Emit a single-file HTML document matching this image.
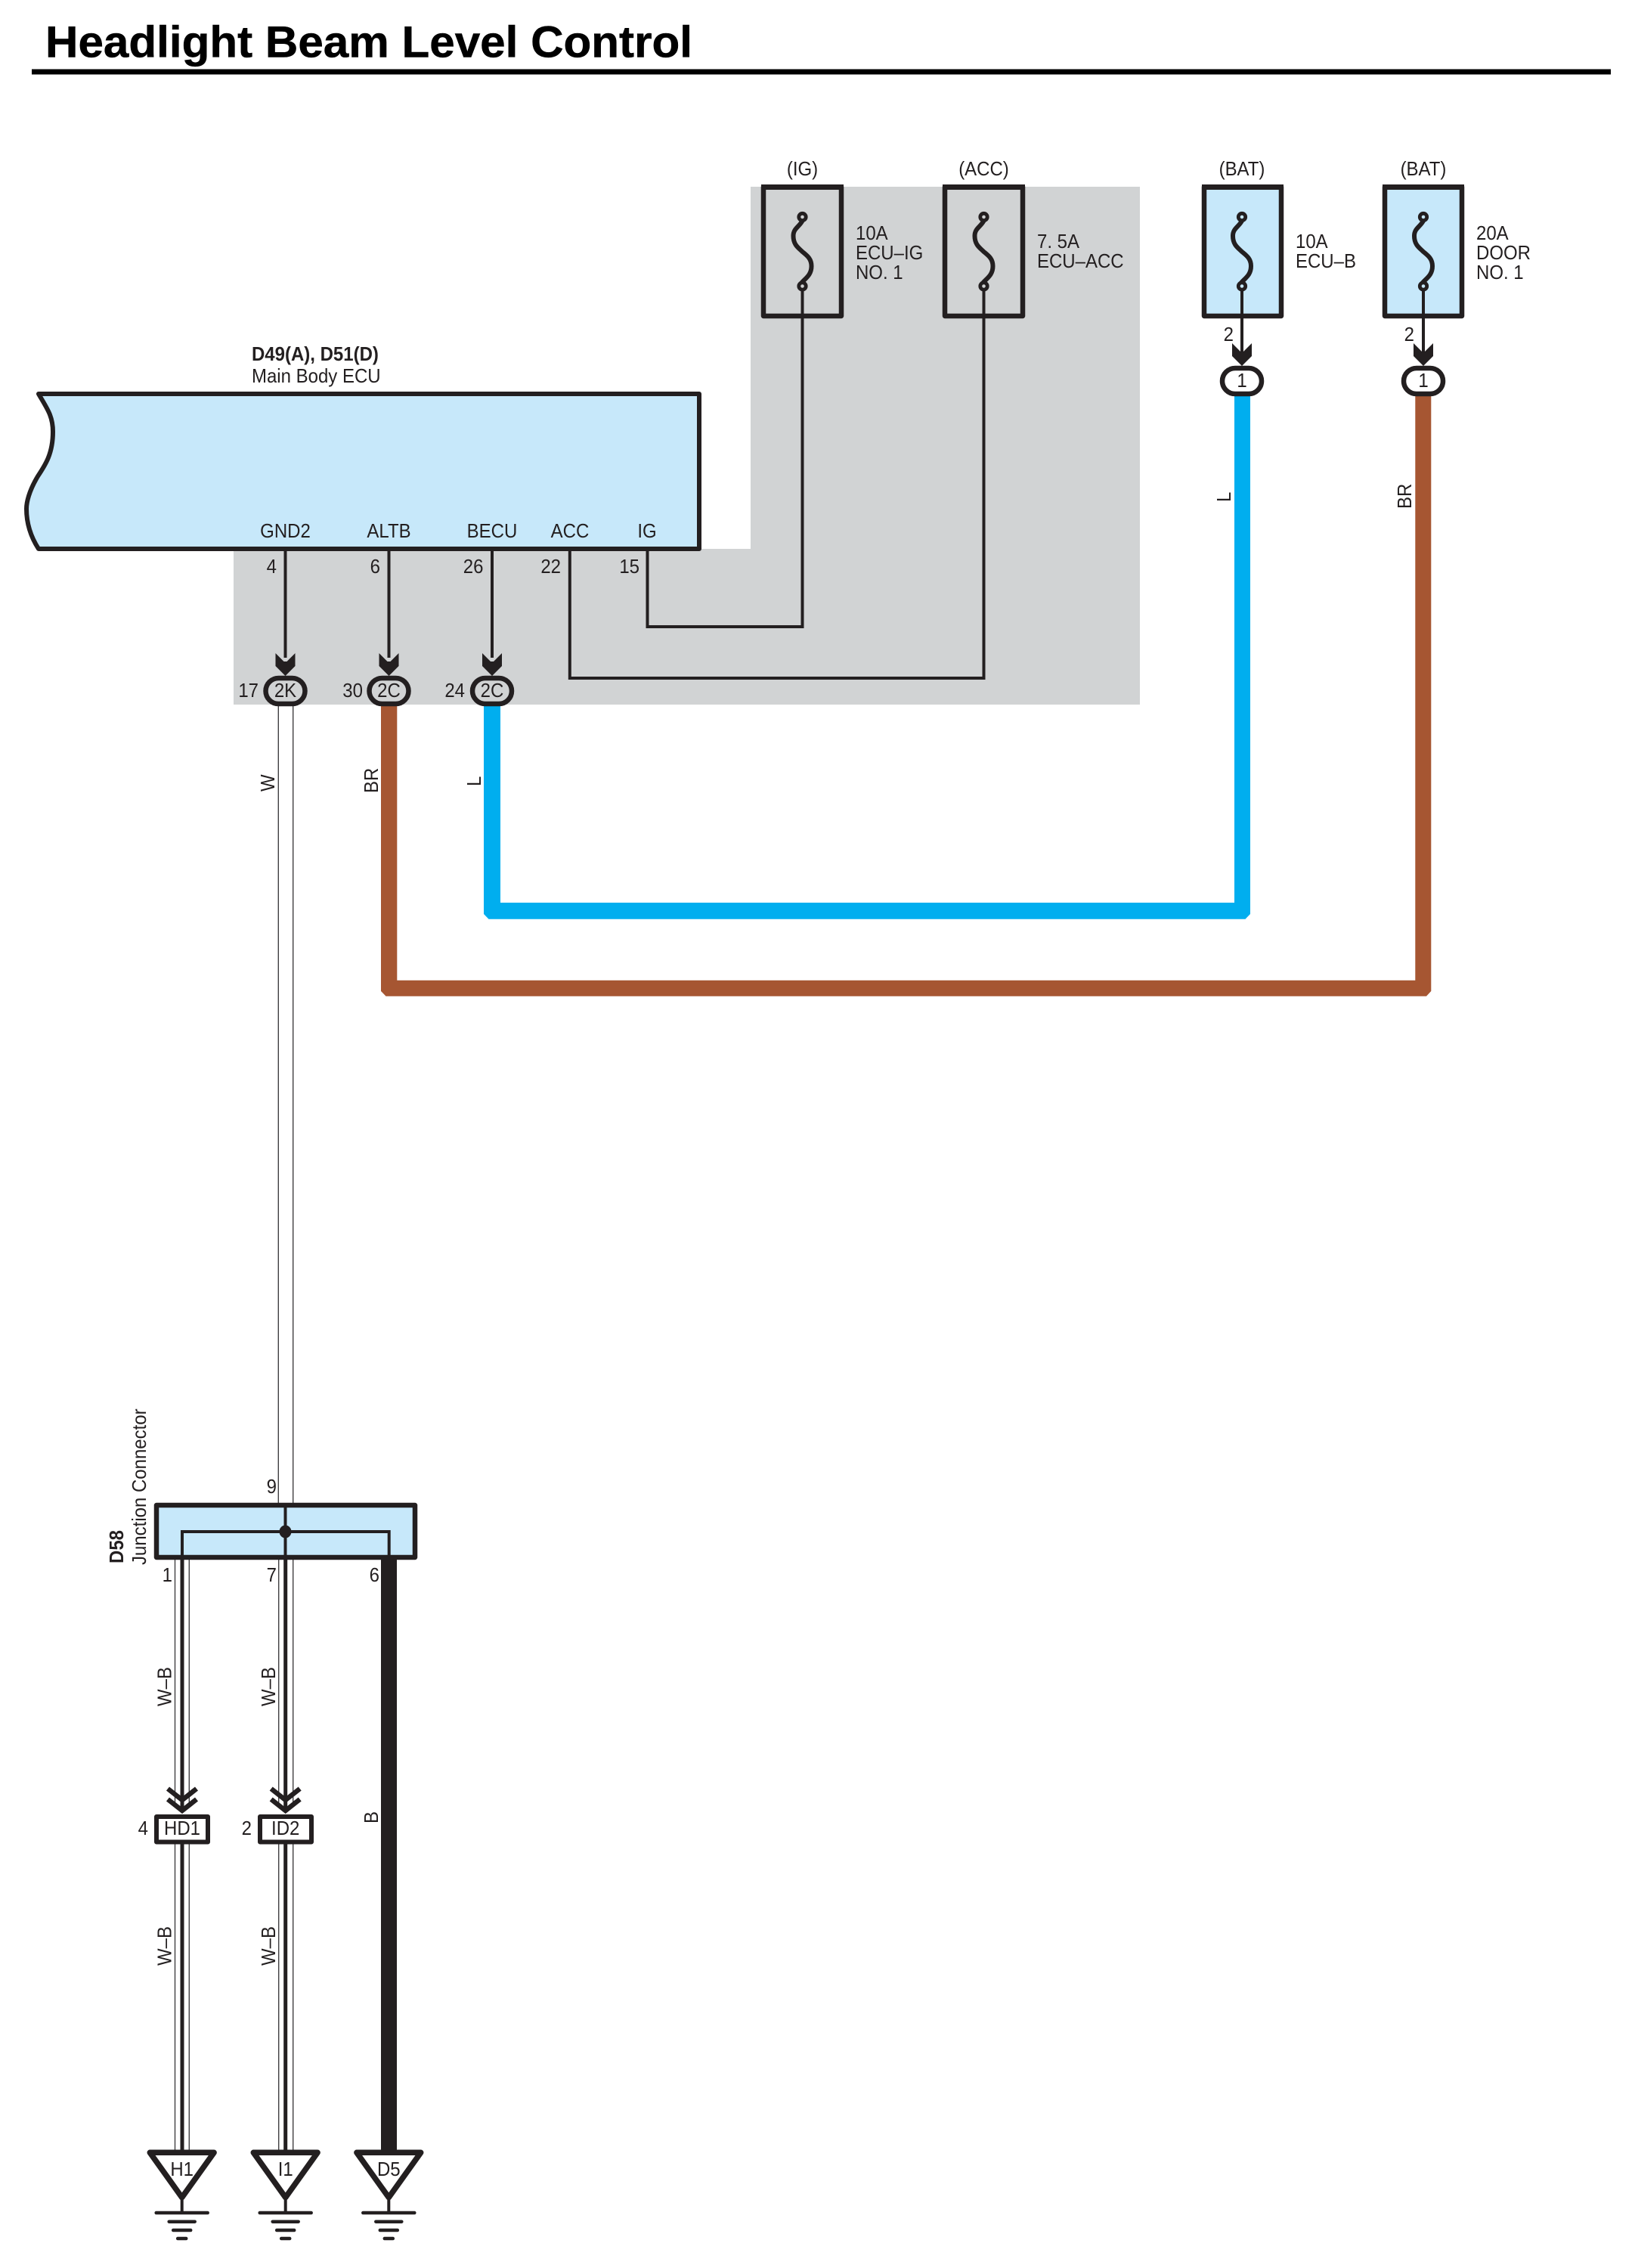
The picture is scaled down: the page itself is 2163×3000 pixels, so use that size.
<!DOCTYPE html>
<html>
<head>
<meta charset="utf-8">
<title>Headlight Beam Level Control</title>
<style>
html,body{margin:0;padding:0;background:#fff;}
svg{display:block;}
text{font-family:"Liberation Sans",sans-serif;font-size:26px;fill:#231f20;}
text:not([transform]){transform-box:fill-box;transform-origin:left center;transform:scaleX(.923);}
text.m:not([transform]){transform-origin:center center;}
text.e:not([transform]){transform-origin:right center;}
text.t{font-size:58px;fill:#000;stroke:#000;stroke-width:.5px;transform:none;}
.b{font-weight:bold;}
.m{text-anchor:middle;}
.e{text-anchor:end;}
</style>
</head>
<body>
<svg xmlns="http://www.w3.org/2000/svg" width="2163" height="3000" viewBox="0 0 2163 3000">
<defs>
  <g id="arrow"><polygon points="-13,864 -2,875 2,875 13,864 13,881 0,894 -13,881" fill="#231f20"/></g>
  <g id="gnd" fill="none" stroke="#231f20" stroke-linecap="round">
    <polygon points="-42.4,2847.3 42.4,2847.3 0,2906.7" fill="#fff" stroke-width="7.5" stroke-linejoin="round"/>
    <path d="M0 2910V2927" stroke-width="4" stroke-linecap="butt"/>
    <path d="M-34 2927H34" stroke-width="4.5"/>
    <path d="M-17 2938.7H17" stroke-width="4.5"/>
    <path d="M-11.5 2950H11.5" stroke-width="4.5"/>
    <path d="M-5.5 2961H5.5" stroke-width="4.5"/>
  </g>
  <g id="fs" fill="none" stroke="#231f20">
    <path d="M0 292C-4 300 -12 302 -12 312C-12 324 -5 328 0 333C6 338 12 342 12 352C12 364 4 368 -1 374" stroke-width="6"/>
  </g>
  <g id="chev" fill="none" stroke="#231f20" stroke-width="6.5">
    <polyline points="-19,2366 0,2381 19,2366"/>
    <polyline points="-19,2380 0,2395 19,2380"/>
  </g>
</defs>

<rect width="2163" height="3000" fill="#fff"/>

<!-- Title -->
<text class="b t" x="60" y="75.5" textLength="856" lengthAdjust="spacingAndGlyphs">Headlight Beam Level Control</text>
<rect x="42" y="91.5" width="2089" height="7" fill="#000"/>

<!-- Gray area -->
<polygon points="993,247 1508,247 1508,932 309,932 309,726 993,726" fill="#d1d3d4"/>

<!-- Thick wires -->
<polygon points="504,934 504,1311 510.5,1317.7 1887,1317.7 1893.3,1311 1893.3,524 1872.3,524 1872.3,1296.7 525.3,1296.7 525.3,934" fill="#a65632"/>
<polygon points="640,934 640,1209 646.5,1215.7 1647.5,1215.7 1654,1209 1654,524 1633,524 1633,1194 662,1194 662,934" fill="#00aeef"/>

<!-- White wire -->
<path d="M368.3 934V1990M387.7 934V1990" stroke="#414042" stroke-width="1.4" fill="none"/>

<!-- W-B wires -->
<path d="M231.5 2063V2390M250.3 2063V2390M231.5 2438V2847M250.3 2438V2847M368.7 2063V2390M387.7 2063V2390M368.7 2438V2847M387.7 2438V2847" stroke="#414042" stroke-width="1.4" fill="none"/>
<path d="M241 2063V2396M241 2438V2847M377.7 2063V2396M377.7 2438V2847" stroke="#231f20" stroke-width="5" fill="none"/>
<rect x="504" y="2060" width="21" height="790" fill="#231f20"/>

<!-- ECU -->
<path d="M51 521H925V726H51C42 712 35 695 35 673C35 665 38 650 50 630C60 615 70 600 70 571C70 550 62 540 51 521Z" fill="#c7e8fa" stroke="#231f20" stroke-width="6" stroke-linejoin="round"/>
<text class="b" x="333" y="477">D49(A), D51(D)</text>
<text x="333" y="506">Main Body ECU</text>
<text class="m" x="377.5" y="711">GND2</text>
<text class="m" x="514.5" y="711">ALTB</text>
<text class="m" x="651" y="711">BECU</text>
<text class="m" x="754" y="711">ACC</text>
<text class="m" x="856" y="711">IG</text>
<text class="e" x="366" y="758">4</text>
<text class="e" x="503" y="758">6</text>
<text class="e" x="639.5" y="758">26</text>
<text class="e" x="742" y="758">22</text>
<text class="e" x="846" y="758">15</text>

<!-- Thin wires -->
<g fill="none" stroke="#231f20" stroke-width="4">
  <path d="M377.5 729V870M514.5 729V870M651 729V870"/>
  <path d="M856.5 729V829H1061.5V385"/>
  <path d="M753.8 729V897H1301.5V385"/>
</g>

<!-- Arrows to 2K/2C -->
<use href="#arrow" x="377.5"/>
<use href="#arrow" x="514.5"/>
<use href="#arrow" x="651"/>
<use href="#arrow" x="1643" y="-410"/>
<use href="#arrow" x="1883" y="-410"/>

<!-- Connectors -->
<g fill="#d1d3d4" stroke="#231f20" stroke-width="6.5">
  <rect x="351.5" y="897" width="52" height="34" rx="17"/>
  <rect x="488.5" y="897" width="52" height="34" rx="17"/>
  <rect x="625" y="897" width="52" height="34" rx="17"/>
</g>
<g fill="#fff" stroke="#231f20" stroke-width="6.5">
  <rect x="1617" y="487" width="52" height="34" rx="17"/>
  <rect x="1857" y="487" width="52" height="34" rx="17"/>
</g>
<text class="m" x="377.5" y="922">2K</text>
<text class="m" x="514.5" y="922">2C</text>
<text class="m" x="651" y="922">2C</text>
<text class="e" x="342" y="922">17</text>
<text class="e" x="480" y="922">30</text>
<text class="e" x="615" y="922">24</text>
<text class="m" x="1643" y="512">1</text>
<text class="m" x="1883" y="512">1</text>
<text class="e" x="1632" y="451">2</text>
<text class="e" x="1871" y="451">2</text>

<!-- Fuses -->
<g fill="none" stroke="#231f20" stroke-width="6.5" stroke-linejoin="round">
  <rect x="1010" y="247.5" width="103" height="170.5"/>
  <rect x="1250" y="247.5" width="103" height="170.5"/>
  <rect x="1593" y="247.5" width="102" height="170.5" fill="#c7e8fa"/>
  <rect x="1832" y="247.5" width="102" height="170.5" fill="#c7e8fa"/>
</g>
<rect x="1007" y="244" width="109" height="7" fill="#231f20"/>
<rect x="1247" y="244" width="109" height="7" fill="#231f20"/>
<rect x="1590" y="244" width="108" height="7" fill="#231f20"/>
<rect x="1829" y="244" width="108" height="7" fill="#231f20"/>
<path d="M1643 385V470M1883 385V470M1061.5 385V430M1301.5 385V430" stroke="#231f20" stroke-width="4" fill="none"/>
<use href="#fs" x="1061.5"/>
<use href="#fs" x="1301.5"/>
<use href="#fs" x="1643"/>
<use href="#fs" x="1883"/>
<g stroke="#231f20" stroke-width="4.8">
  <circle cx="1061.5" cy="287" r="4.7" fill="#d1d3d4"/>
  <circle cx="1061.5" cy="378.5" r="4.7" fill="#d1d3d4"/>
  <circle cx="1301.5" cy="287" r="4.7" fill="#d1d3d4"/>
  <circle cx="1301.5" cy="378.5" r="4.7" fill="#d1d3d4"/>
  <circle cx="1643" cy="287" r="4.7" fill="#c7e8fa"/>
  <circle cx="1643" cy="378.5" r="4.7" fill="#c7e8fa"/>
  <circle cx="1883" cy="287" r="4.7" fill="#c7e8fa"/>
  <circle cx="1883" cy="378.5" r="4.7" fill="#c7e8fa"/>
</g>

<text class="m" x="1061.5" y="232">(IG)</text>
<text class="m" x="1301.5" y="232">(ACC)</text>
<text class="m" x="1643" y="232">(BAT)</text>
<text class="m" x="1883" y="232">(BAT)</text>

<text x="1132" y="317">10A</text>
<text x="1132" y="343">ECU–IG</text>
<text x="1132" y="369">NO. 1</text>
<text x="1372" y="328">7. 5A</text>
<text x="1372" y="354">ECU–ACC</text>
<text x="1714" y="328">10A</text>
<text x="1714" y="354">ECU–B</text>
<text x="1953" y="317">20A</text>
<text x="1953" y="343">DOOR</text>
<text x="1953" y="369">NO. 1</text>

<!-- Rotated wire labels -->
<text transform="translate(363,1047) rotate(-90) scale(.923,1)">W</text>
<text transform="translate(500,1049) rotate(-90) scale(.923,1)">BR</text>
<text transform="translate(636,1040) rotate(-90) scale(.923,1)">L</text>
<text transform="translate(1628,664) rotate(-90) scale(.923,1)">L</text>
<text transform="translate(1867,673) rotate(-90) scale(.923,1)">BR</text>

<!-- Junction -->
<rect x="207" y="1991" width="342" height="69" fill="#c7e8fa" stroke="#231f20" stroke-width="6.5" stroke-linejoin="round"/>
<path d="M377.5 1991V2060M241 2060V2026H514.7V2060" fill="none" stroke="#231f20" stroke-width="4"/>
<ellipse cx="377.5" cy="2026" rx="8" ry="8.5" fill="#231f20"/>
<text transform="translate(163,2068) rotate(-90) scale(.923,1)" class="b">D58</text>
<text transform="translate(193,2070) rotate(-90) scale(.923,1)">Junction Connector</text>
<text class="e" x="366" y="1975">9</text>
<text class="e" x="228" y="2092">1</text>
<text class="e" x="366" y="2092">7</text>
<text class="e" x="502" y="2092">6</text>

<text transform="translate(226.5,2257) rotate(-90) scale(.923,1)">W–B</text>
<text transform="translate(364,2257) rotate(-90) scale(.923,1)">W–B</text>
<text transform="translate(226.5,2600) rotate(-90) scale(.923,1)">W–B</text>
<text transform="translate(364,2600) rotate(-90) scale(.923,1)">W–B</text>
<text transform="translate(500,2412) rotate(-90) scale(.923,1)">B</text>

<!-- HD1 / ID2 -->
<use href="#chev" x="241"/>
<use href="#chev" x="377.7"/>
<g fill="#fff" stroke="#231f20" stroke-width="6" stroke-linejoin="round">
  <rect x="207" y="2403" width="68" height="33.5"/>
  <rect x="344" y="2403" width="68" height="33.5"/>
</g>
<text class="m" x="241" y="2427">HD1</text>
<text class="m" x="377.7" y="2427">ID2</text>
<text class="e" x="196" y="2427">4</text>
<text class="e" x="333" y="2427">2</text>

<!-- Grounds -->
<use href="#gnd" x="240.7"/>
<use href="#gnd" x="377.7"/>
<use href="#gnd" x="514.3"/>
<text class="m" x="240.7" y="2878">H1</text>
<text class="m" x="377.7" y="2878">I1</text>
<text class="m" x="514.3" y="2878">D5</text>
</svg>
</body>
</html>
